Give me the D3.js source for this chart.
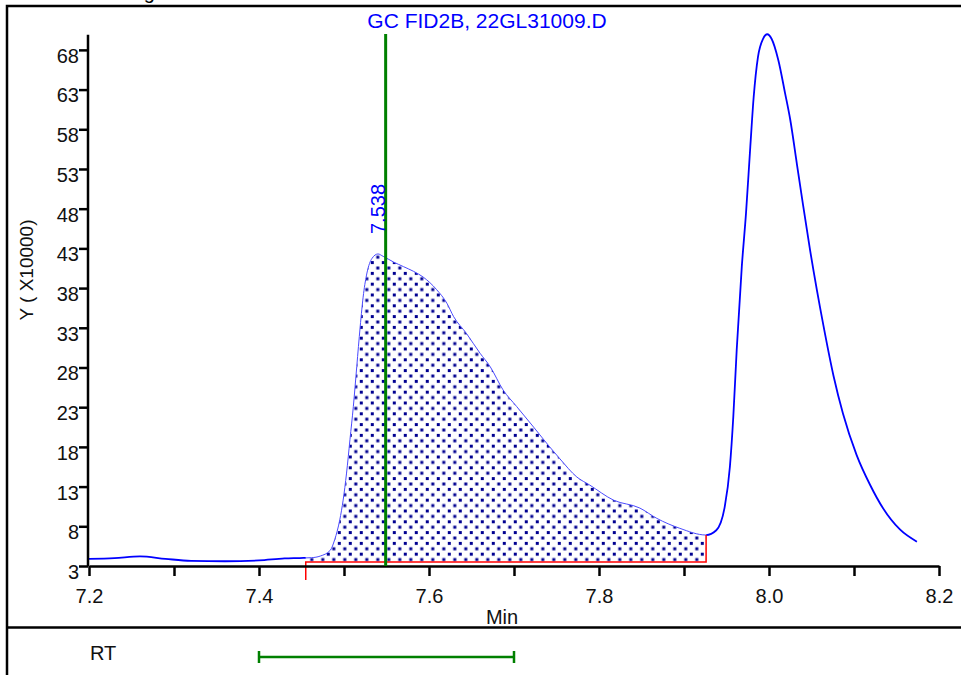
<!DOCTYPE html>
<html>
<head>
<meta charset="utf-8">
<script src="https://cdn.jsdelivr.net/npm/d3@7"></script>
<style>
  body { margin: 0; background: #fff; }
  svg { display: block; font-family: "Liberation Sans", Arial, sans-serif; }
</style>
</head>
<body>
<div id="chart"></div>
<script>
// chromatogram trace (time in min, signal in x10000)
var times = [7.2, 7.23, 7.26, 7.29, 7.32, 7.36, 7.4, 7.43, 7.448, 7.462, 7.472, 7.484,
  7.489, 7.495, 7.499, 7.503, 7.507, 7.511, 7.515, 7.519, 7.523, 7.527, 7.533, 7.540,
  7.546, 7.558, 7.570, 7.582, 7.593, 7.609, 7.621, 7.629, 7.644, 7.660, 7.672, 7.687,
  7.703, 7.723, 7.742, 7.754, 7.774, 7.789, 7.817, 7.848, 7.868, 7.895, 7.926, 7.938,
  7.948, 7.954, 7.958, 7.962, 7.968, 7.973, 7.978, 7.982, 7.987, 7.993, 7.998, 8.003,
  8.011, 8.019, 8.025, 8.033, 8.040, 8.048, 8.064, 8.076, 8.087, 8.103, 8.119, 8.134,
  8.154, 8.174];
var signal = [3.9, 4.0, 4.2, 3.9, 3.65, 3.6, 3.7, 3.95, 4.0, 4.05, 4.25, 5.0,
  6.3, 8.8, 11.3, 14.7, 18.9, 23.1, 28.1, 33.1, 37.3, 39.9, 41.75, 42.3,
  42.0, 41.3, 40.7, 40.1, 39.4, 37.8, 36.1, 34.4, 32.3, 29.8, 28.1, 25.2,
  23.1, 20.5, 18.0, 16.5, 14.2, 13.2, 11.3, 10.3, 9.0, 7.75, 6.9, 7.5,
  10.5, 15.5, 21.8, 30.2, 40.7, 47.5, 55.8, 62.1, 67.1, 69.4, 69.97, 69.4,
  66.7, 62.5, 59.2, 53.5, 48.5, 43.0, 33.3, 26.9, 22.2, 17.0, 13.2, 10.3,
  7.6, 6.06];

var xTicks = [7.2, 7.4, 7.6, 7.8, 8.0, 8.2];
var xMinorTicks = [7.3, 7.5, 7.7, 7.9, 8.1];
var yTicks = [3, 8, 13, 18, 23, 28, 33, 38, 43, 48, 53, 58, 63, 68];

var title = "GC FID2B, 22GL31009.D";
var peakStart = 7.455, peakEnd = 7.926, peakBase = 3.5;
var rtMarker = 7.549, rtLabel = "7.538";
var rtWindow = [7.4, 7.7];

var W = 961, H = 675;
var svg = d3.select("#chart").append("svg")
  .attr("width", W)
  .attr("height", H);

var x = d3.scaleLinear().domain([7.2, 8.2]).range([89, 939]);
var y = d3.scaleLinear().domain([3, 70]).range([566, 34]);

var data = times.map(function(t, i) { return {t: t, v: signal[i]}; });

// dotted fill pattern
var defs = svg.append("defs");
var pat = defs.append("pattern")
  .attr("id", "dots")
  .attr("patternUnits", "userSpaceOnUse")
  .attr("x", 7.8).attr("y", 1.9)
  .attr("width", 11).attr("height", 10.8);
pat.append("rect").attr("x", 0).attr("y", 0).attr("width", 3).attr("height", 3).attr("fill", "#000090");
pat.append("rect").attr("x", 5.5).attr("y", 5.4).attr("width", 3).attr("height", 3).attr("fill", "#000090");

defs.append("clipPath").attr("id", "inPeak")
  .append("rect")
  .attr("x", x(peakStart)).attr("y", 0)
  .attr("width", x(peakEnd) - x(peakStart)).attr("height", y(peakBase));
var outClip = defs.append("clipPath").attr("id", "outPeak");
outClip.append("rect").attr("x", 0).attr("y", 0).attr("width", x(peakStart)).attr("height", H);
outClip.append("rect").attr("x", x(peakEnd)).attr("y", 0).attr("width", W - x(peakEnd)).attr("height", H);

// frame
svg.append("text")
  .attr("x", 126).attr("y", -1)
  .attr("font-size", 20)
  .text("Signal");
svg.append("rect")
  .attr("x", 7).attr("y", 6)
  .attr("width", 1000).attr("height", 700)
  .attr("fill", "none")
  .attr("stroke", "#000")
  .attr("stroke-width", 2.5);
svg.append("line")
  .attr("x1", 7).attr("x2", W)
  .attr("y1", 627.5).attr("y2", 627.5)
  .attr("stroke", "#000")
  .attr("stroke-width", 2.5);

// integrated area
var area = d3.area()
  .x(function(d) { return x(d.t); })
  .y0(y(peakBase))
  .y1(function(d) { return y(d.v); })
  .curve(d3.curveMonotoneX);
svg.append("path")
  .datum(data)
  .attr("clip-path", "url(#inPeak)")
  .attr("fill", "url(#dots)")
  .attr("d", area);

var line = d3.line()
  .x(function(d) { return x(d.t); })
  .y(function(d) { return y(d.v); })
  .curve(d3.curveMonotoneX);
svg.append("path")
  .datum(data)
  .attr("clip-path", "url(#inPeak)")
  .attr("fill", "none")
  .attr("stroke", "#4a4aff")
  .attr("stroke-width", 1)
  .attr("d", line);
svg.append("path")
  .datum(data)
  .attr("clip-path", "url(#outPeak)")
  .attr("fill", "none")
  .attr("stroke", "#0000ff")
  .attr("stroke-width", 1.8)
  .attr("d", line);

// integration baseline
var vEnd = signal[times.indexOf(peakEnd)];
svg.append("path")
  .attr("fill", "none")
  .attr("stroke", "#ff0000")
  .attr("stroke-width", 1.5)
  .attr("d", "M" + x(peakStart) + "," + (y(peakBase) + 18) +
    "V" + y(peakBase) + "H" + x(peakEnd) + "V" + y(vEnd));

// axes
var xAxis = svg.append("g")
  .attr("transform", "translate(0," + y(3) + ")")
  .call(d3.axisBottom(x).tickValues(xTicks.concat(xMinorTicks)).tickSize(10).tickSizeOuter(0)
    .tickFormat(function(d) { return xTicks.indexOf(d) >= 0 ? d3.format(".1f")(d) : ""; }));
var yAxis = svg.append("g")
  .attr("transform", "translate(88,0)")
  .call(d3.axisLeft(y).tickValues(yTicks).tickSize(9).tickPadding(0).tickSizeOuter(0));
[xAxis, yAxis].forEach(function(g) {
  g.select(".domain").attr("stroke-width", 2.5);
  g.selectAll(".tick line").attr("stroke-width", 2.5);
  g.selectAll("text").attr("font-size", 20).attr("font-family", "Liberation Sans, Arial, sans-serif").attr("fill", "#111");
});
xAxis.selectAll("text").attr("y", 22.5).attr("dy", "0.71em");
yAxis.selectAll("text").attr("dy", "0.62em");
yAxis.select(".domain").attr("d", "M0," + y(3) + "V" + y(69.9));

svg.append("text")
  .attr("x", 502).attr("y", 624)
  .attr("text-anchor", "middle")
  .attr("font-size", 20)
  .attr("fill", "#111")
  .text("Min");
svg.append("text")
  .attr("transform", "translate(33,270) rotate(-90)")
  .attr("text-anchor", "middle")
  .attr("font-size", 19)
  .attr("fill", "#111")
  .text("Y ( X10000)");

// title and retention marker
svg.append("text")
  .attr("x", 487).attr("y", 28)
  .attr("text-anchor", "middle")
  .attr("font-size", 21)
  .attr("fill", "#0000ff")
  .text(title);
svg.append("line")
  .attr("x1", x(rtMarker)).attr("x2", x(rtMarker))
  .attr("y1", 34).attr("y2", y(3))
  .attr("stroke", "#008000")
  .attr("stroke-width", 3);
svg.append("text")
  .attr("transform", "translate(" + (x(rtMarker) - 1) + ",234) rotate(-90)")
  .attr("font-size", 20)
  .attr("fill", "#0000ff")
  .text(rtLabel);

// RT window panel
svg.append("text")
  .attr("x", 90).attr("y", 660)
  .attr("font-size", 20)
  .attr("fill", "#111")
  .text("RT");
var rtY = 657;
svg.append("path")
  .attr("fill", "none")
  .attr("stroke", "#008000")
  .attr("stroke-width", 2.5)
  .attr("d", "M" + x(rtWindow[0]) + "," + (rtY - 6) + "V" + (rtY + 6) +
    "M" + x(rtWindow[0]) + "," + rtY + "H" + x(rtWindow[1]) +
    "M" + x(rtWindow[1]) + "," + (rtY - 6) + "V" + (rtY + 6));
</script>
</body>
</html>
